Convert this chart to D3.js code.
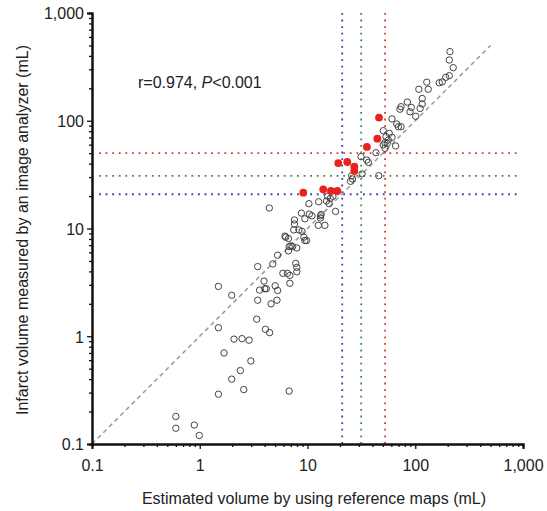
<!DOCTYPE html>
<html><head><meta charset="utf-8">
<script src="https://cdn.jsdelivr.net/npm/d3@7"></script>
<style>body{margin:0;background:#fff}svg{display:block}text{font-family:"Liberation Sans",Arial,sans-serif;fill:#222}</style>
</head><body><svg id="c" width="547" height="511"></svg>
<script>
const openX = [0.60,0.60,0.89,0.99,1.49,1.49,1.49,1.98,1.68,2.08,2.47,2.87,2.38,1.98,2.56,2.98,3.38,3.45,3.45,3.59,4.01,4.15,3.95,4.07,4.45,4.59,4.76,5.01,5.21,5.28,5.28,5.91,6.51,6.86,6.86,6.76,4.42,6.18,6.27,6.66,6.76,7.02,6.66,7.28,7.56,7.56,7.45,7.96,7.78,7.96,7.96,8.33,8.77,8.9,9.25,9.46,9.46,9.8,10.3,10.4,11.0,12.6,12.7,13.2,13.4,13.2,14.5,15.0,15.4,15.9,16.3,17.2,18.2,25.7,25.1,26.2,
210,207,225,207,192,178,167,128,132,108,116,116,111,101,89.4,91.9,84.4,73.8,72.1,60.8,67.3,69.7,73.8,50.5,57.4,53.5,60.8,65.8,52.4,50.5,55.0,52.4,43.2,56.2,35.4,36.7,31.4,32.1,45.8];
const openY = [0.18,0.14,0.15,0.12,2.9,1.2,0.29,2.4,0.70,0.94,0.95,0.92,0.48,0.40,0.32,0.59,1.44,2.16,4.43,2.68,2.76,2.76,3.25,1.16,1.08,2.0,4.69,2.94,2.16,2.66,5.65,3.84,3.84,3.67,3.10,0.31,15.5,8.5,8.3,8.07,6.8,6.9,6.2,6.8,12.0,11.0,9.7,6.6,4.75,4.36,3.97,9.7,13.9,9.4,8.3,12.3,7.73,7.73,17.0,13.6,13.1,10.7,17.7,13.1,13.5,12.5,10.7,18.0,19.9,17.0,19.0,19.9,14.4,30.9,27.4,28.8,
438,366,311,262,253,229,225,228,196,196,161,143,130,110,121,133,149,135,128,104,93.3,88,88,80.9,76.4,71.1,70.2,58.3,62.6,59.6,61.7,55.5,50.5,66.3,43.2,41.1,46.4,32.1,30.9];
const redX = [46.1,44.5,35.6,23.4,19.3,27.2,27.2,9.14,14.0,16.5,18.9];
const redY = [107,68.2,57.1,41.4,40.5,37.5,34.2,21.5,23.1,22.3,22.3];
const cutoffX = [21,31.5,52.5];
const cutoffY = [20.8,30.8,50];
const cutoffColors = ["#3b3fa6","#3d8a3d","#c8402f"];
const tickValues = [0.1,1,10,100,1000];
const tickLabels = ["0.1","1","10","100","1,000"];
const diagonal = [0.1,500];

const svg = d3.select("#c");
const x = d3.scaleLog().domain([0.1,1000]).range([92,523]);
const y = d3.scaleLog().domain([0.1,1000]).range([444,13]);
const minor = [];
for (let d=0.1; d<1000; d*=10) for (let k=2;k<=9;k++) minor.push(+(d*k).toPrecision(3));

// cutoff lines
cutoffColors.forEach((col,i)=>{
  svg.append("line").attr("x1",x(cutoffX[i])).attr("x2",x(cutoffX[i])).attr("y1",y(1000)).attr("y2",y(0.1))
    .attr("stroke",col).attr("stroke-width",1.8).attr("stroke-dasharray","1.8,4.8");
  svg.append("line").attr("x1",99).attr("x2",520).attr("y1",y(cutoffY[i])).attr("y2",y(cutoffY[i]))
    .attr("stroke",col).attr("stroke-width",1.8).attr("stroke-dasharray","1.8,4.8");
});
// diagonal
svg.append("line").attr("x1",x(diagonal[0])).attr("y1",y(diagonal[0])).attr("x2",x(diagonal[1])).attr("y2",y(diagonal[1]))
  .attr("stroke","#999").attr("stroke-width",1.5).attr("stroke-dasharray","4.5,3.5");

// points
svg.append("g").selectAll("circle").data(openX.map((v,i)=>[v,openY[i]])).join("circle")
  .attr("cx",d=>x(d[0])).attr("cy",d=>y(d[1])).attr("r",3.2)
  .attr("fill","none").attr("stroke","#444").attr("stroke-width",1);
svg.append("g").selectAll("circle").data(redX.map((v,i)=>[v,redY[i]])).join("circle")
  .attr("cx",d=>x(d[0])).attr("cy",d=>y(d[1])).attr("r",3.9)
  .attr("fill","#e8231d");

// axes
const xAxis = svg.append("g").attr("transform","translate(0,444)");
xAxis.call(d3.axisBottom(x).tickValues(minor).tickSize(3).tickFormat(""));
xAxis.call(g=>g.append("g").call(d3.axisBottom(x).tickValues(tickValues).tickSize(5).tickFormat((d,i)=>tickLabels[i])));
const yAxis = svg.append("g").attr("transform","translate(92,0)");
yAxis.call(d3.axisLeft(y).tickValues(minor).tickSize(3).tickFormat(""));
yAxis.call(g=>g.append("g").call(d3.axisLeft(y).tickValues(tickValues).tickSize(5).tickFormat((d,i)=>tickLabels[i])));
svg.selectAll(".domain").attr("stroke","#111").attr("stroke-width",2);
svg.selectAll(".tick line").attr("stroke","#111").attr("stroke-width",1.3);
svg.selectAll(".tick text").attr("font-size",16).attr("fill","#222").attr("font-family","'Liberation Sans',Arial,sans-serif");
xAxis.selectAll(".tick text").attr("dy",null).attr("y",27);
yAxis.selectAll(".tick text").attr("x",-8).attr("dy","0.36em");

// titles
svg.append("text").attr("x",314).attr("y",504).attr("text-anchor","middle").attr("font-size",16)
  .text("Estimated volume by using reference maps (mL)");
svg.append("text").attr("transform","translate(28,230) rotate(-90)").attr("text-anchor","middle").attr("font-size",16)
  .text("Infarct volume measured by an image analyzer (mL)");
const ann = svg.append("text").attr("x",138).attr("y",88).attr("font-size",16);
ann.append("tspan").text("r=0.974, ");
ann.append("tspan").attr("font-style","italic").text("P");
ann.append("tspan").text("<0.001");
</script></body></html>
